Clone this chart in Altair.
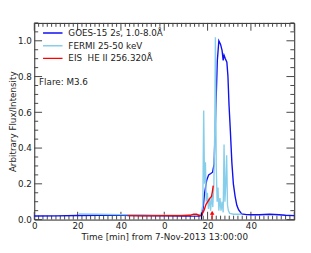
import altair as alt
import pandas as pd

W, H = 267, 202
FONT = "DejaVu Sans"

# ---- data (minutes from 12:00 on the axis, normalised flux) ----
goes_t = [0, 10, 20, 30, 40, 50, 60, 70, 76, 77.4, 78.0, 78.6, 79.6, 80.5, 81.5, 82.3, 83.0, 83.8,
          84.5, 85.2, 86.0, 86.7, 87.2, 87.6, 88.2, 88.9, 89.4, 89.9, 90.5, 91.2, 91.9, 92.7,
          93.5, 94.3, 95.7, 98, 101, 104, 108.6, 113, 116, 120]
goes_v = [0.02, 0.021, 0.023, 0.024, 0.024, 0.023, 0.021, 0.02, 0.02, 0.024, 0.07, 0.147, 0.22,
          0.25, 0.258, 0.265, 0.31, 0.62, 0.89, 1.0, 0.98, 0.945, 0.89, 0.92, 0.9, 0.88, 0.8,
          0.64, 0.5, 0.32, 0.2, 0.13, 0.08, 0.055, 0.032, 0.028, 0.027, 0.027, 0.03, 0.027,
          0.024, 0.022]

fermi_t = [20.5, 30, 40, 50, 60, 70, 75, 77, 77.8, 78.2, 78.6, 79.0, 79.4, 79.9, 80.4, 80.9,
           81.4, 81.9, 82.4, 82.9, 83.3, 83.6, 84.0, 84.4, 84.8, 85.2, 85.7, 86.2, 86.7, 87.2,
           87.6, 88.0, 88.4, 88.8, 89.2, 89.6, 90.2, 92, 95.7]
fermi_v = [0.032, 0.03, 0.028, 0.026, 0.025, 0.024, 0.025, 0.03, 0.08, 0.61, 0.2, 0.32, 0.1,
           0.15, 0.06, 0.12, 0.05, 0.14, 0.07, 0.2, 0.5, 1.02, 0.3, 0.1, 0.18, 0.05, 0.12, 0.05,
           0.1, 0.04, 0.42, 0.1, 0.2, 0.36, 0.08, 0.05, 0.035, 0.03, 0.03]

eis_t = [43, 50, 60, 68, 72, 73.5, 75, 76.2, 77.2, 78.3, 79.3, 80.3, 81.1, 81.8, 82.2, 82.6]
eis_v = [0.022, 0.021, 0.022, 0.022, 0.024, 0.03, 0.03, 0.022, 0.025, 0.05, 0.085, 0.105,
         0.12, 0.13, 0.155, 0.19]

series_names = ["GOES-15 2s, 1.0-8.0Å", "FERMI 25-50 keV", "EIS\u00a0 HE II 256.320Å"]
series_colors = ["#1010f0", "#87ceeb", "#ff0000"]

x_labels_at = [0, 20, 40, 60, 80, 100]
x_major = [0, 20, 40, 60, 80, 100, 120]
x_minor = [t for t in range(0, 121, 2) if t % 20]
y_major = [0.0, 0.2, 0.4, 0.6, 0.8, 1.0]
y_minor = [round(0.05 * k, 2) for k in range(23) if k % 4]

flare_text = ["Flare: M3.6"]
flare_t = [2.2]
flare_v = [0.77]

arrow_t = [82.1]
start_t = [77.2]

# ---- tables ----
rows = []
for name, ts, vs in zip(series_names, [goes_t, fermi_t, eis_t], [goes_v, fermi_v, eis_v]):
    for t, v in zip(ts, vs):
        rows.append({"s": name, "t": t, "v": v})
df = pd.DataFrame(rows)

xscale = alt.Scale(domain=[0, 120], nice=False, zero=False)
yscale = alt.Scale(domain=[0, 1.1], nice=False, zero=False)

xaxis = alt.Axis(values=x_labels_at, labelExpr="datum.value % 60", tickSize=0, domain=False,
                 grid=False, labelFlush=False, labelPadding=2, titlePadding=2,
                 title="Time [min] from 7-Nov-2013 13:00:00")
yaxis = alt.Axis(values=y_major, format=".1f", tickSize=0, domain=False, grid=False,
                 labelPadding=3, titleX=-22, titleY=H / 2, titleAlign="center",
                 titleBaseline="middle", titleAngle=270,
                 title="Arbitrary Flux/Intensity")


def X(field="t"):
    return alt.X(f"{field}:Q", scale=xscale, axis=xaxis)


def Y(field="v"):
    return alt.Y(f"{field}:Q", scale=yscale, axis=yaxis)


color = alt.Color("s:N", scale=alt.Scale(domain=series_names, range=series_colors),
                  legend=alt.Legend(orient="none", legendX=8, legendY=4, title=None,
                                    symbolType="stroke", symbolSize=400, symbolStrokeWidth=1.5,
                                    clipHeight=12.8, rowPadding=0, labelFontSize=9,
                                    labelFont=FONT, labelOffset=5, padding=0,
                                    labelColor="#222"))

tick_color = "#444"
layers = []
# inward ticks
layers.append(alt.Chart(pd.DataFrame({"t": x_minor})).mark_rule(color=tick_color)
              .encode(x=X(), y=alt.value(H), y2=alt.value(H - 4)))
layers.append(alt.Chart(pd.DataFrame({"t": x_major})).mark_rule(color=tick_color)
              .encode(x=X(), y=alt.value(H), y2=alt.value(H - 8)))
layers.append(alt.Chart(pd.DataFrame({"t": x_minor})).mark_rule(color=tick_color)
              .encode(x=X(), y=alt.value(0), y2=alt.value(4)))
layers.append(alt.Chart(pd.DataFrame({"t": x_major})).mark_rule(color=tick_color)
              .encode(x=X(), y=alt.value(0), y2=alt.value(8)))
layers.append(alt.Chart(pd.DataFrame({"v": y_minor})).mark_rule(color=tick_color)
              .encode(y=Y(), x=alt.value(0), x2=alt.value(4)))
layers.append(alt.Chart(pd.DataFrame({"v": y_major})).mark_rule(color=tick_color)
              .encode(y=Y(), x=alt.value(0), x2=alt.value(8)))
layers.append(alt.Chart(pd.DataFrame({"v": y_minor})).mark_rule(color=tick_color)
              .encode(y=Y(), x=alt.value(W), x2=alt.value(W - 4)))
layers.append(alt.Chart(pd.DataFrame({"v": y_major})).mark_rule(color=tick_color)
              .encode(y=Y(), x=alt.value(W), x2=alt.value(W - 8)))

# series lines
for name in series_names:
    layers.append(alt.Chart(df).transform_filter(alt.datum.s == name)
                  .mark_line(strokeWidth=1.4, interpolate="linear")
                  .encode(x=X(), y=Y(), color=color))

# markers
layers.append(alt.Chart(pd.DataFrame({"t": start_t, "v": [0.0], "v2": [0.04]}))
              .mark_rule(color="#000060", strokeWidth=1.2)
              .encode(x=X(), y=Y(), y2="v2:Q"))
layers.append(alt.Chart(pd.DataFrame({"t": arrow_t, "v": [0.0], "v2": [0.035]}))
              .mark_rule(color="#ff0000", strokeWidth=1.2)
              .encode(x=X(), y=Y(), y2="v2:Q"))
layers.append(alt.Chart(pd.DataFrame({"t": arrow_t, "v": [0.038]}))
              .mark_point(shape="triangle-up", filled=True, size=22, color="#ff0000", opacity=1)
              .encode(x=X(), y=Y()))
layers.append(alt.Chart(pd.DataFrame({"t": flare_t, "v": flare_v, "txt": flare_text}))
              .mark_text(align="left", baseline="middle", fontSize=9, font=FONT, color="#222")
              .encode(x=X(), y=Y(), text="txt:N"))

chart = alt.layer(*layers).properties(
    width=W, height=H,
    autosize=alt.AutoSizeParams(type="none"),
    padding={"left": 27, "top": 12, "right": 9, "bottom": 31},
).configure_view(stroke="#222", strokeWidth=1).configure_axis(
    labelFont=FONT, titleFont=FONT, labelFontSize=9, titleFontSize=9,
    titleFontWeight="normal", labelColor="#222", titleColor="#222"
)

chart.save("out.html", embed_options={"renderer": "svg", "actions": False})
